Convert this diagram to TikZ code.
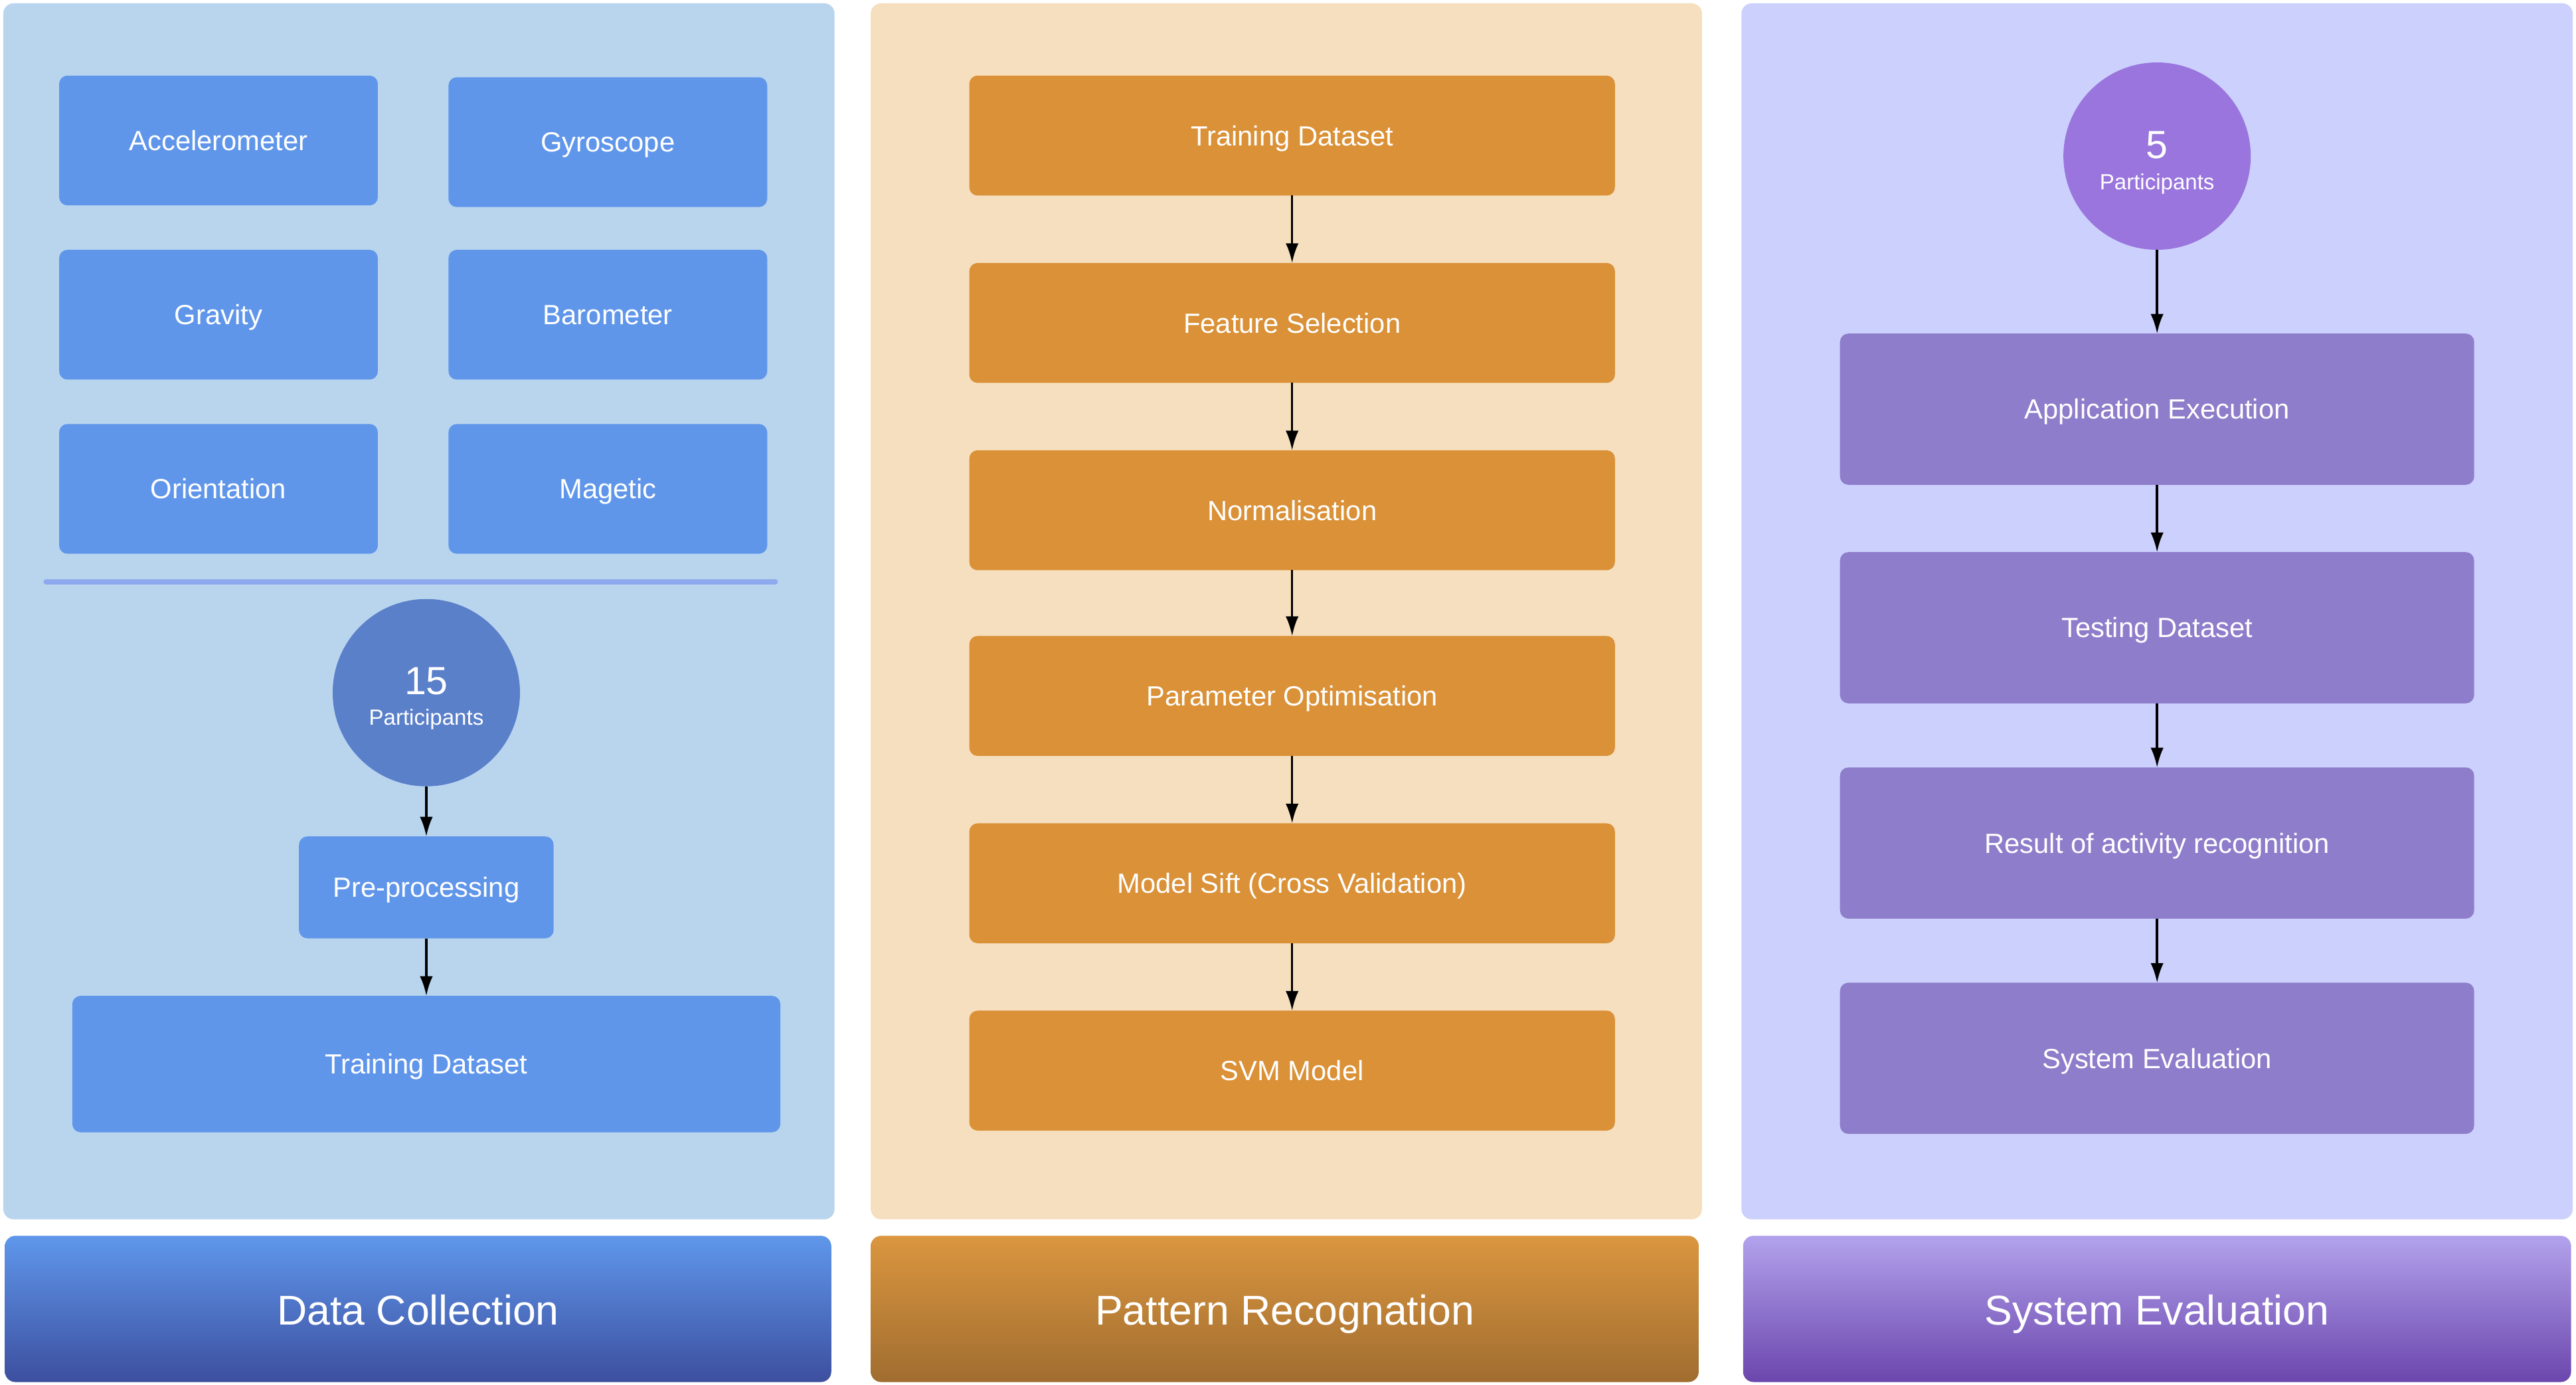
\documentclass[tikz,border=0pt]{standalone}
\usepackage{fontspec}
\setmainfont{Liberation Sans}
\usetikzlibrary{arrows.meta}
\definecolor{panA}{HTML}{B9D5EE}
\definecolor{panB}{HTML}{F6DFBF}
\definecolor{panC}{HTML}{CCD0FC}
\definecolor{boxA}{HTML}{6096EA}
\definecolor{cirA}{HTML}{5B80CA}
\definecolor{boxB}{HTML}{DA9137}
\definecolor{boxC}{HTML}{8D7DCA}
\definecolor{cirC}{HTML}{9975DD}
\definecolor{divA}{HTML}{8FA9EE}
\definecolor{hAt}{HTML}{5F97EB}
\definecolor{hAb}{HTML}{3D4F9F}
\definecolor{hBt}{HTML}{DB963F}
\definecolor{hBb}{HTML}{A06D30}
\definecolor{hCt}{HTML}{B2A2EC}
\definecolor{hCb}{HTML}{6B46AD}
\newcommand\bx[7]{\node[#6, minimum width={(#4-#2)*0.025cm}, minimum height={(#5-#3)*0.025cm}] (#1) at ({(#2+#4)/2},{(#3+#5)/2}) {#7};}
\tikzset{
  base/.style={rectangle, rounded corners=3.6pt, inner sep=0pt, outer sep=0pt, text=white, font=\fontsize{12}{14}\selectfont, text height=8.6pt, text depth=0pt},
  bluebox/.style={base, fill=boxA},
  orangebox/.style={base, fill=boxB},
  purplebox/.style={base, fill=boxC},
  partc/.style={circle, inner sep=0pt, outer sep=0pt, minimum size={114*0.025cm}},
  numtxt/.style={text=white, inner sep=0pt, font=\fontsize{17}{19}\selectfont, text height=12.2pt, text depth=0pt},
  smalltxt/.style={text=white, inner sep=0pt, font=\fontsize{9.5}{11}\selectfont, text height=6.8pt, text depth=0pt},
  conn/.style={-{Latex[length=8.5pt,width=5.6pt]}, line width=1pt, black},
  headtxt/.style={text=white, font=\fontsize{18}{21}\selectfont, inner sep=0pt, text height=12.9pt, text depth=0pt}
}
\begin{document}
\begin{tikzpicture}[x=0.025cm,y=-0.025cm]
\useasboundingbox[fill=white] (0,0) rectangle (1568,842.8);
% panels
\fill[panA, rounded corners=4.5pt] (2,2) rectangle (508,742);
\fill[panB, rounded corners=4.5pt] (530,2) rectangle (1036,742);
\fill[panC, rounded corners=4.5pt] (1060,2) rectangle (1566,742);
% headers
\shade[top color=hAt, bottom color=hAb, rounded corners=4.5pt] (3,752) rectangle (506,841);
\shade[top color=hBt, bottom color=hBb, rounded corners=4.5pt] (530,752) rectangle (1034,841);
\shade[top color=hCt, bottom color=hCb, rounded corners=4.5pt] (1061,752) rectangle (1565,841);
\node[headtxt] (hA) at (254.5,797) {Data Collection};
\node[headtxt] (hB) at (782,797) {Pattern Recognation};
\node[headtxt] (hC) at (1313,797) {System Evaluation};
% data collection
\bx{acc}{36}{46}{230}{125}{bluebox}{Accelerometer}
\bx{gyr}{273}{47}{467}{126}{bluebox}{Gyroscope}
\bx{gra}{36}{152}{230}{231}{bluebox}{Gravity}
\bx{bar}{273}{152}{467}{231}{bluebox}{Barometer}
\bx{ori}{36}{258}{230}{337}{bluebox}{Orientation}
\bx{mag}{273}{258}{467}{337}{bluebox}{Magetic}
\coordinate (dl) at (28,354);
\coordinate (dr) at (472,354);
\draw[divA, line width=2.2pt, line cap=round] (dl) -- (dr);
\node[partc, fill=cirA] (p15) at (259.5,421.5) {};
\node[numtxt] (p15n) at (259.5,414) {15};
\node[smalltxt] (p15t) at (259.5,436.5) {Participants};
\bx{pre}{182}{509}{337}{571}{bluebox}{Pre-processing}
\bx{trA}{44}{606}{475}{689}{bluebox}{Training Dataset}
\draw[conn] (p15) -- (pre);
\draw[conn] (pre) -- (trA);
% pattern recognition
\bx{trB}{590}{46}{983}{119}{orangebox}{Training Dataset}
\bx{fs}{590}{160}{983}{233}{orangebox}{Feature Selection}
\bx{nor}{590}{274}{983}{347}{orangebox}{Normalisation}
\bx{po}{590}{387}{983}{460}{orangebox}{Parameter Optimisation}
\bx{ms}{590}{501}{983}{574}{orangebox}{Model Sift (Cross Validation)}
\bx{svm}{590}{615}{983}{688}{orangebox}{SVM Model}
\draw[conn] (trB) -- (fs);
\draw[conn] (fs) -- (nor);
\draw[conn] (nor) -- (po);
\draw[conn] (po) -- (ms);
\draw[conn] (ms) -- (svm);
% system evaluation
\node[partc, fill=cirC] (p5) at (1313,95) {};
\node[numtxt] (p5n) at (1313,88) {5};
\node[smalltxt] (p5t) at (1313,110.5) {Participants};
\bx{ae}{1120}{203}{1506}{295}{purplebox}{Application Execution}
\bx{td}{1120}{336}{1506}{428}{purplebox}{Testing Dataset}
\bx{rar}{1120}{467}{1506}{559}{purplebox}{Result of activity recognition}
\bx{se}{1120}{598}{1506}{690}{purplebox}{System Evaluation}
\draw[conn] (p5) -- (ae);
\draw[conn] (ae) -- (td);
\draw[conn] (td) -- (rar);
\draw[conn] (rar) -- (se);
\end{tikzpicture}
\end{document}
